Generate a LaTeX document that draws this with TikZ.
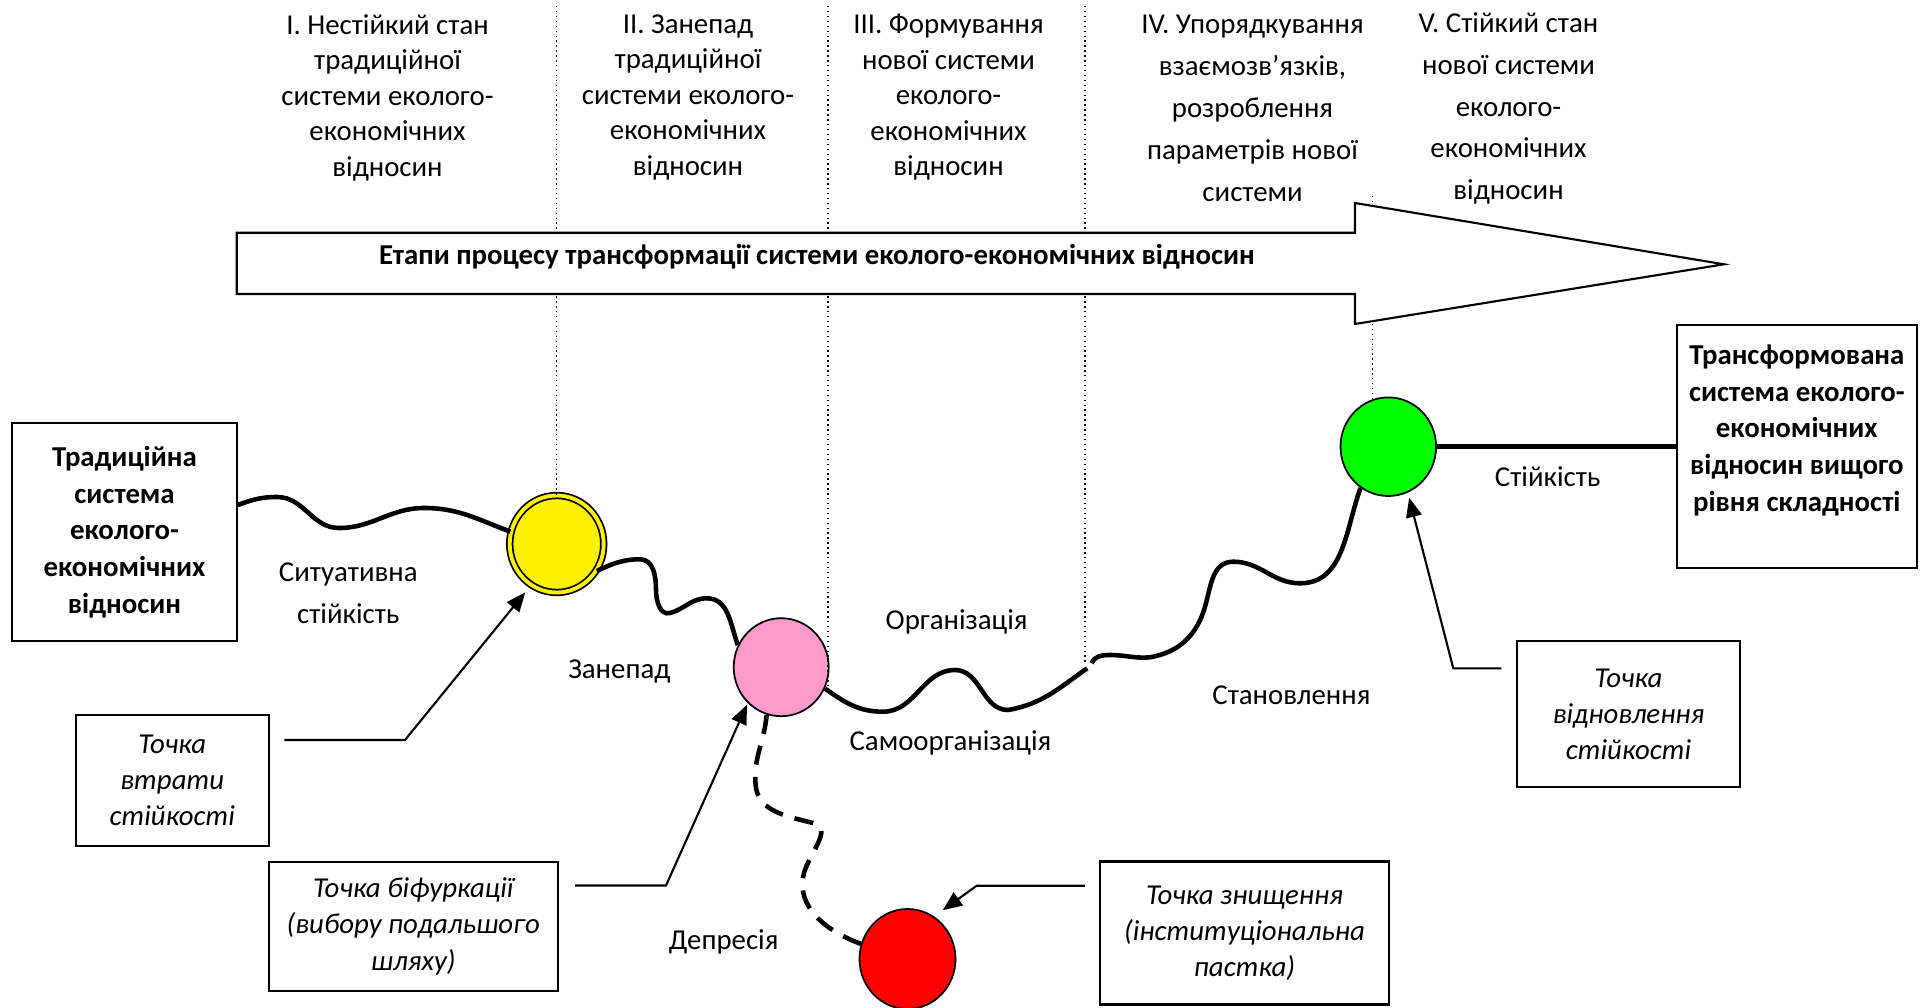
\documentclass[tikz,border=0pt]{standalone}
\usepackage{fontspec}
\setmainfont{Carlito}
\usetikzlibrary{shapes.geometric,arrows.meta}

\begin{document}
\begin{tikzpicture}[
    font=\fontsize{8.2}{10.1}\selectfont,
    hdr/.style={align=center, inner sep=0pt},
    hdrwide/.style={hdr, font=\fontsize{8.2}{11.9}\selectfont},
    lbl/.style={align=center, inner sep=0pt},
    sysbox/.style={draw, line width=0.6pt, align=center, inner sep=2pt,
      font=\fontsize{8.2}{10.4}\selectfont\bfseries},
    ptbox/.style={draw, line width=0.6pt, align=center, inner sep=2pt,
      font=\fontsize{8.2}{10.3}\selectfont\itshape},
    stage/.style={ellipse, draw, line width=0.5pt, inner sep=0pt},
    wave/.style={line width=1.3pt},
    guide/.style={densely dotted, line width=0.4pt},
    pointer/.style={line width=0.6pt, -{Triangle[length=5.5pt,width=4.5pt]}},
  ]
  \useasboundingbox (0,0) rectangle (19.23,-10.08);

  % stage points
  \node [stage, fill=yellow, double=yellow, double distance=1.1pt,
         minimum width=0.94cm, minimum height=0.97cm] (yellow) at (5.567,-5.44) {};
  \node [stage, fill={rgb,255:red,255;green,153;blue,204},
         minimum width=0.95cm, minimum height=0.98cm] (pink) at (7.812,-6.672) {};
  \node [stage, fill={rgb,255:red,0;green,255;blue,0},
         minimum width=0.956cm, minimum height=0.986cm] (green) at (13.883,-4.467) {};
  \node [stage, fill=red,
         minimum width=0.96cm, minimum height=1.0cm] (red) at (9.075,-9.59) {};

  % stage borders
  \draw [guide] (5.567,-0.06) -- (yellow.north);
  \draw [guide] (8.28,-0.06) -- (8.28,-6.86);
  \draw [guide] (10.85,-0.06) -- (10.85,-6.62);
  \draw [guide] (13.727,-1.96) -- (13.727,-4.0);

  % big arrow
  \draw [line width=0.6pt, fill=white] (2.367,-2.327) -- (13.55,-2.327) -- (13.55,-2.03)
    -- (17.24,-2.643) -- (13.55,-3.24) -- (13.55,-2.94) -- (2.367,-2.94) -- cycle;
  \node [font=\fontsize{8.2}{10}\selectfont\bfseries] (stages) at (8.17,-2.563)
    {Етапи процесу трансформації системи еколого-економічних відносин};

  \node [hdr] (st1) at (3.875,-0.975) {I. Нестійкий стан\\традиційної\\системи еколого-\\економічних\\відносин};
  \node [hdr] (st2) at (6.88,-0.975) {II. Занепад\\традиційної\\системи еколого-\\економічних\\відносин};
  \node [hdr] (st3) at (9.485,-0.975) {III. Формування\\нової системи\\еколого-\\економічних\\відносин};
  \node [hdrwide] (st4) at (12.525,-1.085) {IV. Упорядкування\\взаємозв’язків,\\розроблення\\параметрів нової\\системи};
  \node [hdrwide] (st5) at (15.085,-1.085) {V. Стійкий стан\\нової системи\\еколого-\\економічних\\відносин};

  % systems
  \node [sysbox, minimum width=2.244cm, minimum height=2.184cm] (trad) at (1.245,-5.322)
    {Традиційна\\система\\еколого-\\економічних\\відносин};
  \node [sysbox, minimum width=2.405cm, minimum height=2.428cm] (trans) at (17.968,-4.464)
    {Трансформована\\система еколого-\\економічних\\відносин вищого\\рівня складності\\ \mbox{}};

  % trajectory
  \draw [wave] (trad.east |- 0,-5.05) to[out=20,in=180] (2.77,-4.97)
    to[out=0,in=180] (3.39,-5.28) to[out=0,in=180] (4.24,-5.08)
    to[out=0,in=160] (yellow.165);
  \draw [wave] (yellow.-34) to[out=25,in=180] (6.40,-5.593)
    to[out=0,in=90] (6.56,-5.90) to[out=-90,in=195] (6.70,-6.13)
    to[out=15,in=180] (7.067,-5.983) to[out=0,in=110] (pink.153);
  \draw [wave] (pink.-26) to[out=-35,in=180] (8.83,-7.117)
    to[out=0,in=180] (9.55,-6.70) to[out=0,in=180] (10.08,-7.10)
    to[out=10,in=-145] (10.872,-6.683);
  \draw [wave] (10.917,-6.633) to[out=70,in=180] (11.10,-6.55)
    to[out=0,in=185] (11.50,-6.573) to[out=10,in=-110] (12.03,-6.13)
    to[out=70,in=180] (12.333,-5.617) to[out=0,in=180] (13.0,-5.833)
    to[out=0,in=-110] (green.-124);
  \draw [wave] (green.east) -- (green.east -| trans.west);
  \draw [wave, dash pattern=on 5.5pt off 3.5pt] (pink.-107) to[out=-95,in=95] (7.556,-7.85)
    to[out=-85,in=165] (8.14,-8.233) to[out=-15,in=75] (8.04,-8.73)
    to[out=-105,in=160] (red.162);

  % phases
  \node [lbl, font=\fontsize{8.2}{11.9}\selectfont] (situat) at (3.483,-5.935) {Ситуативна\\стійкість};
  \node [lbl] (decline) at (6.193,-6.72) {Занепад};
  \node [lbl] (organ) at (9.566,-6.218) {Організація};
  \node [lbl] (selforg) at (9.505,-7.43) {Самоорганізація};
  \node [lbl] (becoming) at (12.914,-6.954) {Становлення};
  \node [lbl] (stab) at (15.477,-4.77) {Стійкість};
  \node [lbl] (depr) at (7.236,-9.419) {Депресія};

  % points
  \node [ptbox, minimum width=1.926cm, minimum height=1.31cm] (loss) at (1.723,-7.805)
    {Точка\\втрати\\стійкості};
  \node [ptbox, minimum width=2.894cm, minimum height=1.295cm] (bifurc) at (4.133,-9.263)
    {Точка біфуркації\\(вибору подальшого\\шляху)};
  \node [ptbox, minimum width=2.89cm, minimum height=1.43cm] (trap) at (12.445,-9.33)
    {Точка знищення\\(інституціональна\\пастка)};
  \node [ptbox, minimum width=2.23cm, minimum height=1.46cm] (recov) at (16.285,-7.144)
    {Точка\\відновлення\\стійкості};

  \draw [pointer, shorten >=2.5pt] ([shift={(0.146,0.405)}]loss.east) -- (4.05,-7.40) -- (yellow.-122);
  \draw [pointer, shorten >=0.5pt] ([shift={(0.16,0.408)}]bifurc.east) -- (6.66,-8.855) -- (pink.-133);
  \draw [pointer, shorten >=3pt] ([shift={(-0.14,0.473)}]trap.west) -- (9.767,-8.857) -- (red.58);
  \draw [pointer, shorten >=1.5pt] ([shift={(-0.146,0.46)}]recov.west) -- (14.533,-6.684) -- (green.-67);
\end{tikzpicture}
\end{document}
